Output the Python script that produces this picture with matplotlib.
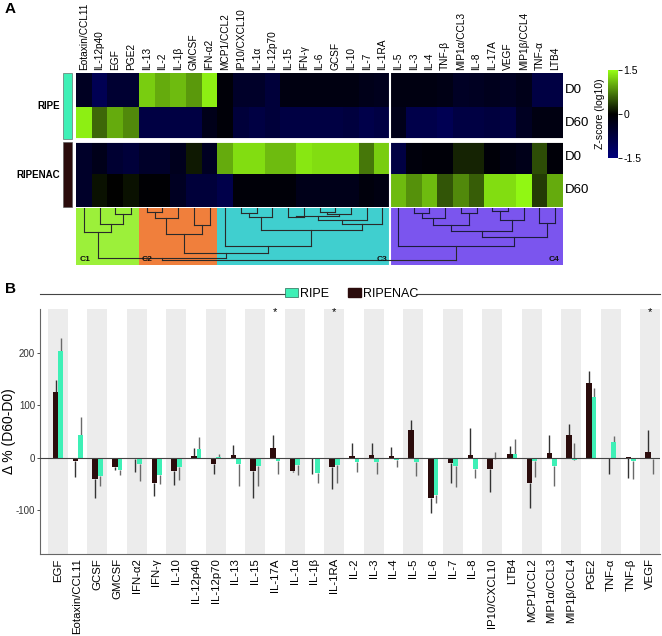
import numpy as np
import matplotlib
matplotlib.use('Agg')
import matplotlib.pyplot as plt
from matplotlib.colors import LinearSegmentedColormap
from matplotlib.patches import Patch, Rectangle

plt.rcParams['font.family'] = ['Liberation Sans', 'DejaVu Sans']

# ---------------- data: heatmap ----------------
heat_cols = ['Eotaxin/CCL11', 'IL-12p40', 'EGF', 'PGE2', 'IL-13', 'IL-2', 'IL-1β', 'GMCSF',
             'IFN-α2', 'MCP1/CCL2', 'IP10/CXCL10', 'IL-1α', 'IL-12p70', 'IL-15', 'IFN-γ',
             'IL-6', 'GCSF', 'IL-10', 'IL-7', 'IL-1RA', 'IL-5', 'IL-3', 'IL-4', 'TNF-β',
             'MIP1α/CCL3', 'IL-8', 'IL-17A', 'VEGF', 'MIP1β/CCL4', 'TNF-α', 'LTB4']
row_groups = ['RIPE', 'RIPENAC']
row_days = ['D0', 'D60', 'D0', 'D60']
ripe_d0 = [-0.4, -1.0, -0.6, -0.6, 1.2, 1.0, 1.1, 0.9, 1.4, -0.1, -0.5, -0.5, -0.7, -0.2, -0.2,
           -0.2, -0.2, -0.2, -0.3, -0.35, -0.2, -0.2, -0.2, -0.25, -0.45, -0.4, -0.35, -0.4,
           -0.3, -0.8, -0.8]
ripe_d60 = [1.4, 0.6, 1.0, 0.8, -0.8, -0.8, -0.8, -0.8, -0.3, -0.1, -0.7, -0.8, -0.7, -0.8, -0.8,
            -0.8, -0.8, -0.75, -0.9, -0.8, -0.3, -0.9, -0.9, -1.0, -0.8, -0.8, -0.75, -0.8,
            -0.4, -0.2, -0.2]
ripenac_d0 = [-0.5, -0.3, -0.6, -0.7, -0.5, -0.5, -0.35, 0.15, -0.4, 1.0, 1.3, 1.3, 1.1, 1.1, 1.35,
              1.3, 1.3, 1.3, 0.7, 1.2, -0.8, -0.15, -0.1, -0.1, 0.2, 0.2, -0.1, -0.2,
              -0.3, 0.45, -0.1]
ripenac_d60 = [-0.5, 0.1, 0.0, 0.1, -0.05, -0.05, -0.4, -0.7, -0.7, -0.9, -0.1, -0.1, -0.1, -0.1,
               -0.3, -0.3, -0.3, -0.3, -0.15, -0.2, 1.1, 0.85, 1.1, 0.5, 0.8, 0.55, 1.3, 1.3,
               1.45, 0.35, 1.0]

# dendrogram merges (scipy-style: ids >= 31 refer to earlier merges), height in px-like units
merges = [(2, 3, 6), (1, 31, 15.3), (0, 32, 23.7),
          (4, 5, 3.7), (34, 6, 10.3), (7, 8, 17), (35, 36, 25.3),
          (10, 11, 5.3), (38, 12, 8.7), (13, 14, 8.7), (15, 16, 4), (41, 17, 5.5),
          (40, 42, 8), (43, 18, 12), (44, 19, 15.3), (39, 45, 22), (9, 46, 37),
          (37, 47, 44.7),
          (21, 22, 4.7), (49, 23, 10.3), (24, 25, 5.3), (50, 51, 17), (26, 27, 2.7),
          (53, 28, 12), (52, 54, 22.7), (29, 30, 14.7), (55, 56, 28.7), (20, 57, 37),
          (33, 48, 49), (59, 58, 51)]
cluster_names = ['C1', 'C2', 'C3', 'C4']
cluster_sizes = [4, 5, 11, 11]
cluster_colors = ['#9cf03a', '#f07f3c', '#40cfcf', '#7b55ee']

# ---------------- data: bar chart ----------------
bar_cats = ['EGF', 'Eotaxin/CCL11', 'GCSF', 'GMCSF', 'IFN-α2', 'IFN-γ', 'IL-10', 'IL-12p40',
            'IL-12p70', 'IL-13', 'IL-15', 'IL-17A', 'IL-1α', 'IL-1β', 'IL-1RA', 'IL-2', 'IL-3',
            'IL-4', 'IL-5', 'IL-6', 'IL-7', 'IL-8', 'IP10/CXCL10', 'LTB4', 'MCP1/CCL2',
            'MIP1α/CCL3', 'MIP1β/CCL4', 'PGE2', 'TNF-α', 'TNF-β', 'VEGF']
ripenac_vals = [125, -6, -41, -19, -3, -49, -26, 3, -12, 4, -26, 18, -26, -1, -18, 3, 4, 3, 53,
                -77, -10, 5, -21, 7, -48, 9, 43, 144, 0, 1, 11]
ripenac_tips = [149, -37, -77, -24, -27, -73, -53, 19, -32, 25, -77, 43, -28, -31, -61, 28, 27, 20,
                72, -106, -48, 56, -66, 22, -96, 43, 64, 167, -31, -40, 52]
ripe_vals = [204, 43, -36, -24, -12, -33, -19, 17, 1, -12, -17, -6, -15, -29, -15, -8, -8, -4, -8,
             -72, -17, -21, -3, 6, -6, -17, -5, 116, 30, -6, -3]
ripe_tips = [230, 78, -54, -34, -45, -51, -43, 40, 6, -54, -55, -31, -34, -48, -49, -27, -31, -18,
             -36, -88, -56, -40, 11, 36, -38, -55, 27, 134, 42, -42, -31]
signif = ['IL-17A', 'IL-1RA', 'VEGF']
y_ticks = [-100, 0, 100, 200]

RIPE_C = '#3ef0b6'
NAC_C = '#2b0c0c'

W, H = 662, 636
fig = plt.figure(figsize=(W / 100, H / 100), dpi=100)


def box(l, t, r, b):
    return [l / W, 1 - b / H, (r - l) / W, (b - t) / H]


cmap = LinearSegmentedColormap.from_list('zs', ['#00007c', '#000000', '#96ff14'])

# ---------------- heatmap ----------------
ax = fig.add_axes(box(76, 73, 563, 207))
data = np.array([ripe_d0, ripe_d60, ripenac_d0, ripenac_d60])
ncol = len(heat_cols)
mesh = ax.pcolormesh(np.arange(ncol + 1), np.arange(5), data, cmap=cmap, vmin=-1.5, vmax=1.5)
ax.set_xlim(0, ncol)
ax.set_ylim(4, 0)
ax.axhline(2, color='white', lw=3.5)
ax.axvline(20, color='white', lw=1.5)
for s in ax.spines.values():
    s.set_visible(False)
ax.set_yticks([])
ax.xaxis.tick_top()
ax.set_xticks(np.arange(ncol) + 0.5)
ax.set_xticklabels(heat_cols, rotation=90, fontsize=7.3)
ax.tick_params(axis='x', length=0, pad=2)
for r, d in enumerate(row_days):
    ax.text(ncol + 0.15, r + 0.5, d, ha='left', va='center', fontsize=9.5)
# group strips
for g, (y0, y1, c) in enumerate([(0.0, 1.97, RIPE_C), (2.06, 4.0, NAC_C)]):
    ax.add_patch(Rectangle((-0.83, y0), 0.58, y1 - y0, facecolor=c, edgecolor='#555555',
                           lw=0.4, clip_on=False))
    ax.text(-1.05, (y0 + y1) / 2, row_groups[g], ha='right', va='center', fontsize=7,
            fontweight='bold')

# ---------------- dendrogram ----------------
dax = fig.add_axes(box(76, 208, 563, 265))
dax.set_xlim(0, ncol)
dax.set_ylim(56, 0)
start = 0
for name, size, col in zip(cluster_names, cluster_sizes, cluster_colors):
    dax.axvspan(start, start + size, color=col, lw=0)
    if name in ('C1', 'C2'):
        dax.text(start + 0.2, 51, name, ha='left', va='center', fontsize=6, fontweight='bold',
                 color='#111111')
    else:
        dax.text(start + size - 0.2, 51, name, ha='right', va='center', fontsize=6,
                 fontweight='bold', color='#111111')
    start += size
dax.axvline(20, color='white', lw=1.5)
pos = {i: (i + 0.5, 0.0) for i in range(ncol)}
for k, (a, b, h) in enumerate(merges):
    xa, ha_ = pos[a]
    xb, hb = pos[b]
    lc = '#1c1c3c' if xa > 20 else '#2a2a2a'
    dax.plot([xa, xa], [ha_, h], color=lc, lw=0.8)
    dax.plot([xb, xb], [hb, h], color=lc, lw=0.8)
    dax.plot([xa, xb], [h, h], color=lc, lw=0.8)
    pos[ncol + k] = ((xa + xb) / 2, h)
dax.axis('off')

# ---------------- colorbar ----------------
cax = fig.add_axes(box(608, 70, 618, 158))
cb = fig.colorbar(mesh, cax=cax, ticks=[-1.5, 0, 1.5])
cb.outline.set_visible(False)
cax.set_yticklabels(['-1.5', '0', '1.5'])
cax.tick_params(labelsize=7.5, length=3, width=0.6, pad=1)
cax.yaxis.set_label_position('left')
cax.set_ylabel('Z-score (log10)', fontsize=7.5, labelpad=2)

# ---------------- bar chart ----------------
bx = fig.add_axes(box(40, 309, 660, 554))
n = len(bar_cats)
x = np.arange(n)
for i in range(0, n, 2):
    bx.axvspan(i - 0.5, i + 0.5, color='#ececec', lw=0, zorder=0)
bx.vlines(x - 0.105, ripenac_vals, ripenac_tips, color='#333333', lw=1.0, zorder=2)
bx.vlines(x + 0.155, ripe_vals, ripe_tips, color='#6a6a6a', lw=1.0, zorder=2)
bx.bar(x - 0.105, ripenac_vals, 0.28, color=NAC_C, zorder=3)
bx.bar(x + 0.155, ripe_vals, 0.24, color=RIPE_C, zorder=3)
bx.axhline(0, color='#444444', lw=0.8, zorder=4)
bx.set_xlim(-0.9, n - 0.5)
bx.set_ylim(-185, 285)
bx.set_yticks(y_ticks)
bx.set_yticklabels([str(t) for t in y_ticks])
bx.tick_params(axis='y', labelsize=7, length=2, width=0.6, colors='#333333', pad=1.5)
bx.set_xticks(x)
bx.set_xticklabels(bar_cats, rotation=90, fontsize=8.2)
bx.tick_params(axis='x', length=0, pad=3)
for s in ('top', 'right'):
    bx.spines[s].set_visible(False)
for s in ('left', 'bottom'):
    bx.spines[s].set_color('#666666')
    bx.spines[s].set_linewidth(0.8)
bx.set_ylabel('Δ % (D60-D0)', fontsize=10)
bx.yaxis.set_label_coords(-0.038, 0.5)
for c in signif:
    bx.text(bar_cats.index(c), 279, '*', ha='center', va='center', fontsize=8)
handles = [Patch(facecolor=RIPE_C, edgecolor='#2a6a55', lw=0.5, label='RIPE'),
           Patch(facecolor=NAC_C, edgecolor=NAC_C, label='RIPENAC')]
bx.legend(handles=handles, loc='center', bbox_to_anchor=(0.503, 1.062), ncol=2, frameon=False,
          fontsize=9, handlelength=1.0, handleheight=0.8, handletextpad=0.2, columnspacing=1.5,
          borderaxespad=0)
bx.plot([0, 0.398], [1.062, 1.062], transform=bx.transAxes, color='#444444', lw=0.8, clip_on=False)
bx.plot([0.607, 1.0], [1.062, 1.062], transform=bx.transAxes, color='#444444', lw=0.8, clip_on=False)

fig.text(5 / W, 1 - 9 / H, 'A', fontsize=11, fontweight='bold', va='center', ha='left')
fig.text(5 / W, 1 - 289 / H, 'B', fontsize=11, fontweight='bold', va='center', ha='left')

fig.savefig('out.png', dpi=100)
